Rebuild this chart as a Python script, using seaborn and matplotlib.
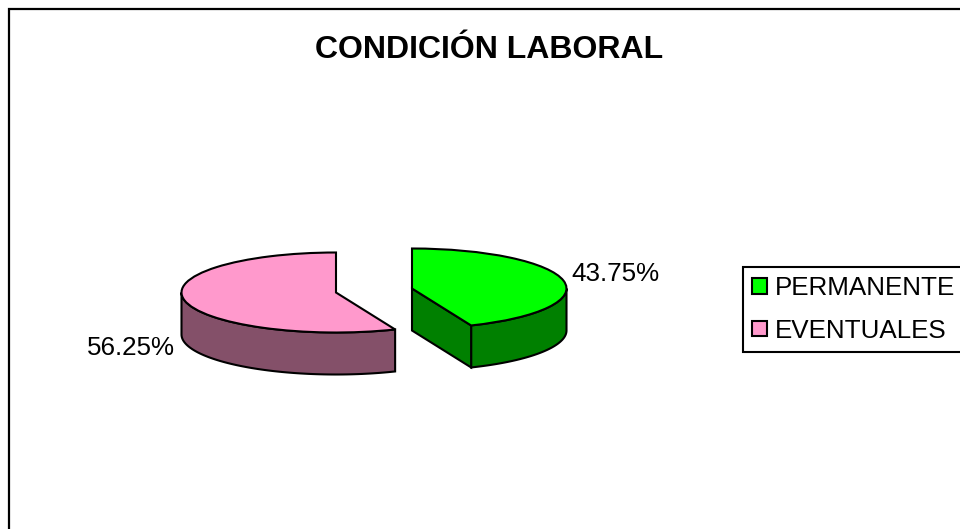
import numpy as np
import matplotlib
matplotlib.use("Agg")
import matplotlib.pyplot as plt
from matplotlib.patches import Patch, Rectangle
import seaborn as sns

# data
categories = ["PERMANENTE", "EVENTUALES"]
shares = [0.4375, 0.5625]
top_colors = ["#00FF00", "#FF99CC"]
side_colors = ["#008000", "#845069"]

sns.set_theme(style="white")
plt.rcParams['font.family'] = ['Liberation Sans', 'DejaVu Sans']

W, H = 960, 529
SQUASH = 40 / 154.5      # tilt of the pie
RADIUS = 154.5
DEPTH = 42 / SQUASH


def ypx(y):
    # picture pixel row to data y
    return (H - y) / SQUASH


fig = plt.figure(figsize=(9.6, 5.29), dpi=100)
ax = fig.add_axes([0, 0, 1, 1])
edge = {"edgecolor": "black", "linewidth": 1.5}

# one pie call per slice since they are pulled apart sideways
centers = [(412, ypx(288.5)), (336, ypx(292.5))]
start = 90
for i, share in enumerate(shares):
    cx, cy = centers[i]
    wedges, _ = ax.pie([share], colors=[top_colors[i]], startangle=start, counterclock=False,
                       normalize=False, center=(cx, cy), radius=RADIUS, wedgeprops=edge)
    w = wedges[0]
    w.set_zorder(3)
    # outer wall, only the front half of the rim shows
    t1 = max(w.theta1, -180 if w.theta1 < 0 else 180)
    t2 = min(w.theta2, 0 if w.theta1 < 0 else 360)
    th = np.radians(np.linspace(t1, t2, 80))
    x = cx + RADIUS * np.cos(th)
    y = cy + RADIUS * np.sin(th)
    ax.fill(np.r_[x, x[::-1]], np.r_[y, y[::-1] - DEPTH], facecolor=side_colors[i], zorder=2, **edge)
    # cut face of the green slice
    if i == 0:
        ex = cx + RADIUS * np.cos(np.radians(w.theta1))
        ey = cy + RADIUS * np.sin(np.radians(w.theta1))
        ax.fill([cx, ex, ex, cx], [cy, ey, ey - DEPTH, cy - DEPTH],
                facecolor=side_colors[i], zorder=2, **edge)
    start -= share * 360

ax.set_aspect("auto")
ax.set_xlim(0, W)
ax.set_ylim(0, H / SQUASH)
ax.axis("on")
ax.set_xticks([])
ax.set_yticks([])
sns.despine(ax=ax, left=True, bottom=True)

# outer chart frame runs off the picture at right and bottom
ax.add_patch(Rectangle((9 / W, -0.1), 1.1, 1.1 - 9 / H, transform=ax.transAxes,
                       fill=False, edgecolor="black", linewidth=1.6, zorder=1, clip_on=False))

ax.text(489, ypx(50), "CONDICIÓN LABORAL", fontsize=23, fontweight="bold", color="black",
        ha="center", va="center")
ax.text(571, ypx(274), f"{shares[0]:.2%}", fontsize=18.7, color="black", ha="left", va="center")
ax.text(175, ypx(348), f"{shares[1]:.2%}", fontsize=18.7, color="black", ha="right", va="center")

handles = [Patch(facecolor=c, edgecolor="black", linewidth=1.5) for c in top_colors]
leg = ax.legend(handles, categories, loc="upper left", bbox_to_anchor=(743 / W, 1 - 267 / H),
                fontsize=18.7, frameon=True, fancybox=False, framealpha=1, edgecolor="black",
                labelcolor="black", handlelength=0.55, handleheight=0.55, handletextpad=0.3,
                borderaxespad=0, borderpad=0.36, labelspacing=0.7)
leg.get_frame().set_linewidth(1.5)

fig.savefig("out.png", dpi=100)
